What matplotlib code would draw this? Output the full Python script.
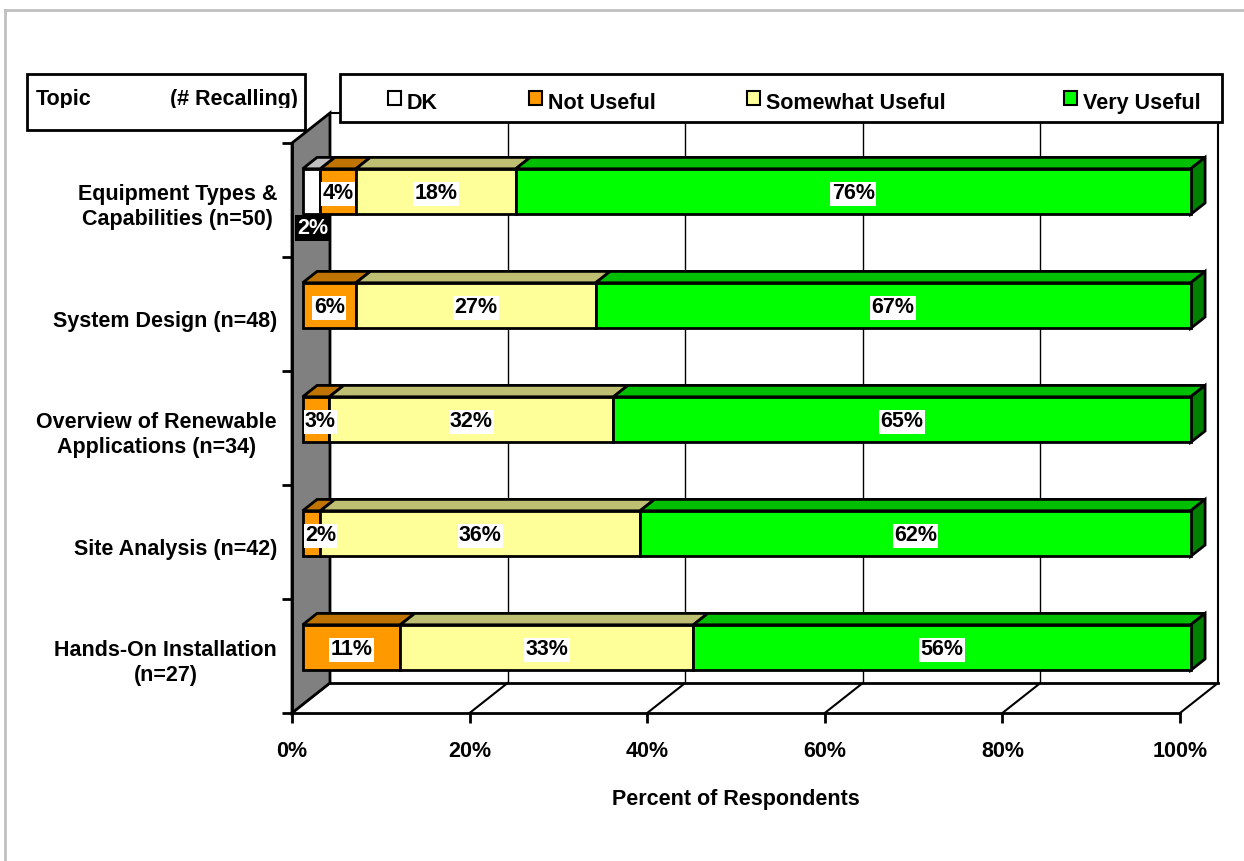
import matplotlib
matplotlib.use("Agg")
import matplotlib.pyplot as plt
from matplotlib.patches import Polygon, Rectangle
from matplotlib.lines import Line2D

# ---------------- data ----------------
categories = ["Equipment Types &\nCapabilities (n=50)",
              "System Design (n=48)",
              "Overview of Renewable\nApplications (n=34)",
              "Site Analysis (n=42)",
              "Hands-On Installation\n(n=27)"]
series_names = ["DK", "Not Useful", "Somewhat Useful", "Very Useful"]
dk       = [2, 0, 0, 0, 0]
not_usef = [4, 6, 3, 2, 11]
somewhat = [18, 27, 32, 36, 33]
very     = [76, 67, 65, 62, 56]
xticks = [0, 20, 40, 60, 80, 100]
xtick_labels = ["0%", "20%", "40%", "60%", "80%", "100%"]

front_colors = ["#FFFFFF", "#FF9900", "#FFFF99", "#00FF00"]
top_colors = ["#C0C0C0", "#BF7300", "#BFBF73", "#00BF00"]
side_color = "#008000"

FONT = "Liberation Sans"
FS = 15.5
plt.rcParams['font.family'] = [FONT, 'DejaVu Sans']
plt.rcParams['font.weight'] = 'bold'

W, H = 1244, 861
fig = plt.figure(figsize=(W / 100, H / 100), dpi=100)

def fx(x):
    return x / W

def fy(y):
    return 1 - y / H

# axes: front plane; x 0..100 -> px 292..1180, categories -0.5..4.5 -> px 143..713
ax = fig.add_axes([fx(292), fy(713), fx(1180) - fx(292), fy(143) - fy(713)])
ax.set_xlim(0, 100)
ax.set_ylim(4.5, -0.5)
ax.patch.set_alpha(0)

DX = 38 / 8.88      # data-x shift per unit depth
DY = 30 / 114.0     # data-y shift per unit depth (upwards)

def P(v, c, d):
    return (v + DX * d, c - DY * d)

# grey side wall
wall = Polygon([P(0, 4.5, 0), P(0, 4.5, 1), P(0, -0.5, 1), P(0, -0.5, 0)],
               closed=True, facecolor="#808080", edgecolor="black", lw=2,
               clip_on=False, zorder=1)
ax.add_patch(wall)

# back wall gridlines + edges
for v in xticks[1:]:
    x0, y0 = P(v, 4.5, 1)
    x1, y1 = P(v, -0.5, 1)
    ax.plot([x0, x1], [y0, y1], color="black", lw=1.5 if v == 100 else 1.0,
            clip_on=False, zorder=1)
ax.plot(*zip(P(0, -0.5, 1), P(100, -0.5, 1)), color="black", lw=1.5,
        clip_on=False, zorder=1)
# floor
ax.plot(*zip(P(0, 4.5, 1), P(100, 4.5, 1)), color="black", lw=2,
        clip_on=False, zorder=1)
for v in xticks:
    ax.plot(*zip(P(v, 4.5, 0), P(v, 4.5, 1)), color="black", lw=1.5,
            clip_on=False, zorder=1)

# spines / ticks
for s in ["top", "right"]:
    ax.spines[s].set_visible(False)
ax.spines["bottom"].set_linewidth(2)
ax.spines["left"].set_linewidth(2)
ax.spines["bottom"].set_zorder(2)
ax.set_xticks(xticks)
ax.set_xticklabels(xtick_labels, fontsize=FS, fontweight="bold", family=FONT)
ax.tick_params(axis="x", length=7.5, width=2, pad=13, direction="out")
ax.set_yticks([-0.5, 0.5, 1.5, 2.5, 3.5, 4.5])
ax.set_yticklabels([])
ax.tick_params(axis="y", length=7.5, width=2, direction="out")
ax.set_xlabel("Percent of Respondents", fontsize=FS, fontweight="bold",
              family=FONT, labelpad=19)

# bars
d0, d1 = 0.28, 0.66
hh = 0.2
series = [dk, not_usef, somewhat, very]
for i in range(len(categories)):
    left = 0.0
    segs = []
    for k, s in enumerate(series):
        val = s[i]
        if val > 0:
            segs.append((k, left, left + val))
        left += val
    # top faces
    for k, a, b in segs:
        top = Polygon([P(a, i - hh, d0), P(b, i - hh, d0), P(b, i - hh, d1), P(a, i - hh, d1)],
                      closed=True, facecolor=top_colors[k], edgecolor="black",
                      lw=2, clip_on=False, zorder=3, joinstyle="miter")
        ax.add_patch(top)
    # side face at end
    k, a, b = segs[-1]
    side = Polygon([P(b, i - hh, d0), P(b, i - hh, d1), P(b, i + hh, d1), P(b, i + hh, d0)],
                   closed=True, facecolor=side_color, edgecolor="black", lw=2,
                   clip_on=False, zorder=3, joinstyle="miter")
    ax.add_patch(side)
    # front faces
    for k, a, b in segs:
        front = Polygon([P(a, i - hh, d0), P(b, i - hh, d0), P(b, i + hh, d0), P(a, i + hh, d0)],
                        closed=True, facecolor=front_colors[k], edgecolor="black",
                        lw=2, clip_on=False, zorder=4, joinstyle="miter")
        ax.add_patch(front)
    # labels
    for k, a, b in segs:
        val = b - a
        mid = (a + b) / 2
        if k == 0:
            cx, cy = P(mid, i + hh + 0.12, d0)
            ax.text(cx + 0.1, cy, f"{val:g}%", ha="center", va="center", fontsize=FS,
                    fontweight="bold", family=FONT, color="white", zorder=6,
                    bbox=dict(facecolor="black", edgecolor="none", pad=1.5),
                    clip_on=False)
        else:
            cx, cy = P(mid, i, d0)
            ha = "center"
            if mid < 2.0:
                cx, cy = P(0.25, i, d0)
                ha = "left"
            ax.text(cx, cy + 0.02, f"{val:g}%", ha=ha, va="center", fontsize=FS,
                    fontweight="bold", family=FONT, color="black", zorder=6,
                    bbox=dict(facecolor="white", edgecolor="none", pad=1.0),
                    clip_on=False)

# category labels
for i, lab in enumerate(categories):
    ax.annotate(lab, xy=(0, i), xytext=(-15, -7), textcoords="offset pixels",
                ha="right", va="center", multialignment="center",
                fontsize=FS, fontweight="bold", family=FONT,
                linespacing=1.3, annotation_clip=False)

# ---------- figure border (top and left only) ----------
fig.add_artist(Line2D([fx(5), fx(1244)], [fy(10), fy(10)], color="#C0C0C0", lw=2))
fig.add_artist(Line2D([fx(5), fx(5)], [fy(10), fy(861)], color="#C0C0C0", lw=2))

# ---------- topic box ----------
topic_box = Rectangle((fx(27), fy(130)), fx(305) - fx(27), fy(74) - fy(130),
                      transform=fig.transFigure, facecolor="white",
                      edgecolor="black", lw=2, zorder=10)
fig.add_artist(topic_box)
clip_rect = Rectangle((fx(27), fy(108)), fx(305) - fx(27), fy(74) - fy(108),
                      transform=fig.transFigure, visible=False)
fig.add_artist(clip_rect)
t1 = fig.text(fx(36), fy(99), "Topic", ha="left", va="center", fontsize=FS,
              fontweight="bold", family=FONT, zorder=11)
t2 = fig.text(fx(298), fy(99), "(# Recalling)", ha="right", va="center",
              fontsize=FS, fontweight="bold", family=FONT, zorder=11)
t1.set_clip_path(clip_rect)
t2.set_clip_path(clip_rect)

# ---------- legend ----------
leg_box = Rectangle((fx(340), fy(122)), fx(1222) - fx(340), fy(74) - fy(122),
                    transform=fig.transFigure, facecolor="white",
                    edgecolor="black", lw=2, zorder=10)
fig.add_artist(leg_box)
marker_x = [388, 529, 747, 1064]
for name, col, mx in zip(series_names, front_colors, marker_x):
    fig.add_artist(Rectangle((fx(mx), fy(105)), fx(13), fy(91) - fy(105),
                             transform=fig.transFigure, facecolor=col,
                             edgecolor="black", lw=1.5, zorder=11))
    fig.text(fx(mx + 19), fy(103.5), name, ha="left", va="center", fontsize=FS,
             fontweight="bold", family=FONT, zorder=11)

fig.savefig("out.png", dpi=100, facecolor="white")
